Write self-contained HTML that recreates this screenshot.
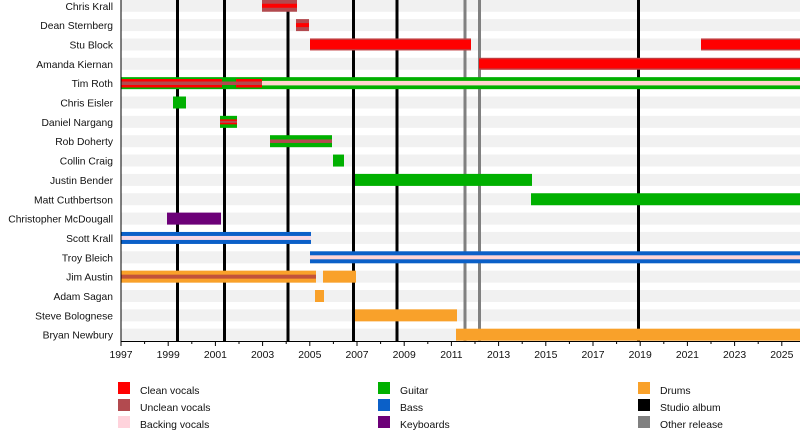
<!DOCTYPE html>
<html><head><meta charset="utf-8"><style>
html,body{margin:0;padding:0;background:#fff;}
svg{display:block;font-family:"Liberation Sans",Arial,sans-serif;}
</style></head><body>
<svg width="800" height="430" viewBox="0 0 800 430" xmlns="http://www.w3.org/2000/svg">
<!-- stripes -->
<g fill="#f1f1f1">
<rect x="121" y="-0.25" width="679" height="12"/>
<rect x="121" y="19.1" width="679" height="12"/>
<rect x="121" y="38.45" width="679" height="12"/>
<rect x="121" y="57.8" width="679" height="12"/>
<rect x="121" y="77.15" width="679" height="12"/>
<rect x="121" y="96.5" width="679" height="12"/>
<rect x="121" y="115.85" width="679" height="12"/>
<rect x="121" y="135.2" width="679" height="12"/>
<rect x="121" y="154.55" width="679" height="12"/>
<rect x="121" y="173.9" width="679" height="12"/>
<rect x="121" y="193.25" width="679" height="12"/>
<rect x="121" y="212.6" width="679" height="12"/>
<rect x="121" y="231.95" width="679" height="12"/>
<rect x="121" y="251.3" width="679" height="12"/>
<rect x="121" y="270.65" width="679" height="12"/>
<rect x="121" y="290" width="679" height="12"/>
<rect x="121" y="309.35" width="679" height="12"/>
<rect x="121" y="328.7" width="679" height="12"/>
</g>
<!-- release lines -->
<g fill="#000">
<rect x="176" y="0" width="3" height="341"/>
<rect x="223" y="0" width="3" height="341"/>
<rect x="286.5" y="0" width="3" height="341"/>
<rect x="352" y="0" width="3" height="341"/>
<rect x="395.5" y="0" width="3" height="341"/>
<rect x="637" y="0" width="3" height="341"/>
</g>
<g fill="#808080">
<rect x="463.5" y="0" width="3" height="341"/>
<rect x="478" y="0" width="3" height="341"/>
</g>
<!-- bars -->
<rect x="262" y="-0.25" width="35" height="12" fill="#b24a4f"/>
<rect x="262" y="3.75" width="35" height="4" fill="#ff0000"/>
<rect x="296" y="19.1" width="13" height="12" fill="#b24a4f"/>
<rect x="296" y="23.1" width="13" height="4" fill="#ff0000"/>
<rect x="310" y="38.45" width="161" height="12" fill="#c23a3e"/>
<rect x="310" y="39.95" width="161" height="9" fill="#ff0000"/>
<rect x="701" y="38.45" width="99" height="12" fill="#c23a3e"/>
<rect x="701" y="39.95" width="99" height="9" fill="#ff0000"/>
<rect x="479" y="57.8" width="321" height="12" fill="#c23a3e"/>
<rect x="479" y="59.3" width="321" height="9" fill="#ff0000"/>
<rect x="121" y="77.15" width="679" height="12" fill="#00b000"/>
<rect x="121" y="79.0" width="101" height="8.5" fill="#ff0000"/>
<rect x="121" y="81.5" width="101" height="3.5" fill="#b24a4f"/>
<rect x="222" y="81.5" width="14" height="3.5" fill="#b24a4f"/>
<rect x="236" y="79.0" width="26" height="8.5" fill="#ff0000"/>
<rect x="236" y="81.5" width="26" height="3.5" fill="#b24a4f"/>
<rect x="262" y="80.9" width="538" height="4.5" fill="#ffd5cf"/>
<rect x="173" y="96.5" width="13" height="12" fill="#00b000"/>
<rect x="220" y="115.85" width="17" height="12" fill="#00b000"/>
<rect x="220" y="119.35" width="17" height="5" fill="#ff0000"/>
<rect x="220" y="120.85" width="17" height="2" fill="#b24a4f"/>
<rect x="270" y="135.2" width="62" height="12" fill="#00b000"/>
<rect x="270" y="139.45" width="62" height="3.5" fill="#b24a4f"/>
<rect x="333" y="154.55" width="11" height="12" fill="#00b000"/>
<rect x="355" y="173.9" width="177" height="12" fill="#00b000"/>
<rect x="531" y="193.25" width="269" height="12" fill="#00b000"/>
<rect x="167" y="212.6" width="54" height="12" fill="#6c0078"/>
<rect x="121" y="231.95" width="190" height="12" fill="#0b60c8"/>
<rect x="121" y="235.95" width="190" height="4" fill="#f6d8e6"/>
<rect x="310" y="251.3" width="490" height="12" fill="#0b60c8"/>
<rect x="310" y="255.3" width="490" height="4" fill="#ffd5d5"/>
<rect x="121" y="270.65" width="195" height="12" fill="#f9a12a"/>
<rect x="121" y="274.65" width="195" height="4" fill="#c2523a"/>
<rect x="323" y="270.65" width="33" height="12" fill="#f9a12a"/>
<rect x="315" y="290" width="9" height="12" fill="#f9a12a"/>
<rect x="355" y="309.35" width="102" height="12" fill="#f9a12a"/>
<rect x="456" y="328.7" width="344" height="12" fill="#f9a12a"/>

<!-- axes -->
<rect x="120.5" y="0" width="1" height="341.5" fill="#000"/>
<rect x="120.5" y="341" width="679.5" height="1" fill="#000"/>
<g stroke="#000" stroke-width="1">
<path d="M121 341V346M144.6 341V344M168.2 341V346M191.8 341V344M215.4 341V346M239 341V344M262.6 341V346M286.2 341V344M309.8 341V346M333.4 341V344M357 341V346M380.6 341V344M404.2 341V346M427.8 341V344M451.4 341V346M475 341V344M498.6 341V346M522.2 341V344M545.8 341V346M569.4 341V344M593 341V346M616.6 341V344M640.2 341V346M663.8 341V344M687.4 341V346M711 341V344M734.6 341V346M758.2 341V344M781.8 341V346"/>
</g>
<g font-size="10.4" fill="#111" text-anchor="middle">
<text x="121" y="358">1997</text>
<text x="168.2" y="358">1999</text>
<text x="215.4" y="358">2001</text>
<text x="262.6" y="358">2003</text>
<text x="309.8" y="358">2005</text>
<text x="357" y="358">2007</text>
<text x="404.2" y="358">2009</text>
<text x="451.4" y="358">2011</text>
<text x="498.6" y="358">2013</text>
<text x="545.8" y="358">2015</text>
<text x="593" y="358">2017</text>
<text x="640.2" y="358">2019</text>
<text x="687.4" y="358">2021</text>
<text x="734.6" y="358">2023</text>
<text x="781.8" y="358">2025</text>
</g>
<g font-size="10.3" fill="#111" text-anchor="end">
<text x="113" y="9.75">Chris Krall</text>
<text x="113" y="29.1">Dean Sternberg</text>
<text x="113" y="48.45">Stu Block</text>
<text x="113" y="67.8">Amanda Kiernan</text>
<text x="113" y="87.15">Tim Roth</text>
<text x="113" y="106.5">Chris Eisler</text>
<text x="113" y="125.85">Daniel Nargang</text>
<text x="113" y="145.2">Rob Doherty</text>
<text x="113" y="164.55">Collin Craig</text>
<text x="113" y="183.9">Justin Bender</text>
<text x="113" y="203.25">Matt Cuthbertson</text>
<text x="113" y="222.6">Christopher McDougall</text>
<text x="113" y="241.95">Scott Krall</text>
<text x="113" y="261.3">Troy Bleich</text>
<text x="113" y="280.65">Jim Austin</text>
<text x="113" y="300">Adam Sagan</text>
<text x="113" y="319.35">Steve Bolognese</text>
<text x="113" y="338.7">Bryan Newbury</text>
</g>
<!-- legend -->
<rect x="118" y="382" width="12" height="12" fill="#ff0000"/>
<rect x="118" y="399" width="12" height="12" fill="#b24a4f"/>
<rect x="118" y="416" width="12" height="12" fill="#ffd3dc"/>
<rect x="378" y="382" width="12" height="12" fill="#00b000"/>
<rect x="378" y="399" width="12" height="12" fill="#0b60c8"/>
<rect x="378" y="416" width="12" height="12" fill="#6c0078"/>
<rect x="638" y="382" width="12" height="12" fill="#f9a12a"/>
<rect x="638" y="399" width="12" height="12" fill="#000"/>
<rect x="638" y="416" width="12" height="12" fill="#808080"/>
<g font-size="10.4" fill="#111">
<text x="140" y="394">Clean vocals</text>
<text x="140" y="411">Unclean vocals</text>
<text x="140" y="428">Backing vocals</text>
<text x="400" y="394">Guitar</text>
<text x="400" y="411">Bass</text>
<text x="400" y="428">Keyboards</text>
<text x="660" y="394">Drums</text>
<text x="660" y="411">Studio album</text>
<text x="660" y="428">Other release</text>
</g>
</svg>
</body></html>
